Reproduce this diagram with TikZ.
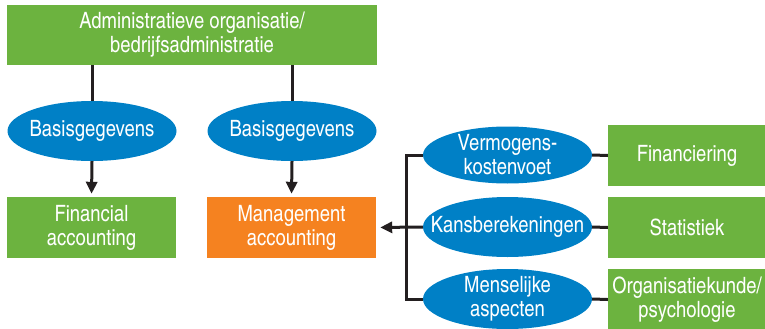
\documentclass[tikz,border=0pt]{standalone}
\usepackage{fontspec}
\setmainfont{TeX Gyre Heros Cn}
\usetikzlibrary{shapes.geometric,arrows.meta}
\definecolor{boxgreen}{RGB}{108,179,63}
\definecolor{ellblue}{RGB}{0,128,198}
\definecolor{boxorange}{RGB}{245,130,32}
\definecolor{linedark}{RGB}{35,31,32}
\tikzset{
	greenbox/.style={fill=boxgreen,text=white,minimum width=169pt,minimum height=61pt,inner sep=0pt,align=center,font=\fontsize{22.5}{24}\selectfont},
	bluebox/.style={ellipse,fill=ellblue,text=white,minimum width=169pt,minimum height=58pt,inner xsep=-20pt,inner ysep=-8pt,align=center,font=\fontsize{22.5}{24}\selectfont},
	link/.style={color=linedark,line width=3pt},
	arrowlink/.style={link,-{Triangle[width=11pt,length=12pt]},shorten >=3pt}
}
\begin{document}
\begin{tikzpicture}[x=1pt,y=-1pt]
		\useasboundingbox (0,0) rectangle (765,329);
		\node[greenbox,minimum width=370pt,minimum height=60pt] (admin) at (192,35) {Administratieve organisatie/\\bedrijfsadministratie};
		\node[bluebox,minimum height=60pt] (basis1) at (92,131) {Basisgegevens};
		\node[bluebox,minimum height=60pt] (basis2) at (292,131) {Basisgegevens};
		\node[greenbox] (fin_acc) at (91.5,227.5) {Financial\\accounting};
		\node[greenbox,fill=boxorange] (man_acc) at (291.5,227.5) {Management\\accounting};
		\node[bluebox,minimum height=57pt] (vermogen) at (507.5,155) {Vermogens-\\kostenvoet};
		\node[bluebox,minimum height=60pt] (kans) at (507.5,227) {Kansberekeningen};
		\node[bluebox,minimum height=60pt] (mens) at (507.5,299) {Menselijke\\aspecten};
		\node[greenbox,minimum width=158pt] (financiering) at (687,155.5) {Financiering};
		\node[greenbox,minimum width=158pt] (statistiek) at (687,227.5) {Statistiek};
		\node[greenbox,minimum width=158pt] (organisatie) at (687,299.5) {Organisatiekunde/\\psychologie};
		\coordinate (bracket) at (406,227);
		% top box down to the two ellipses
		\draw[link] (admin.south -| basis1.north) -- (basis1.north);
		\draw[link] (admin.south -| basis2.north) -- (basis2.north);
		\draw[arrowlink] (basis1.south) -- (fin_acc.north);
		\draw[arrowlink] (basis2.south) -- (man_acc.north);
		% right branch
		\draw[link] (vermogen.west) -| (bracket) |- (mens.west);
		\draw[arrowlink,shorten >=4pt] (kans.west) -- (man_acc.east);
		\draw[link] (vermogen.east) -- (financiering.west);
		\draw[link] (kans.east) -- (statistiek.west);
		\draw[link] (mens.east) -- (organisatie.west);
	\end{tikzpicture}
\end{document}
